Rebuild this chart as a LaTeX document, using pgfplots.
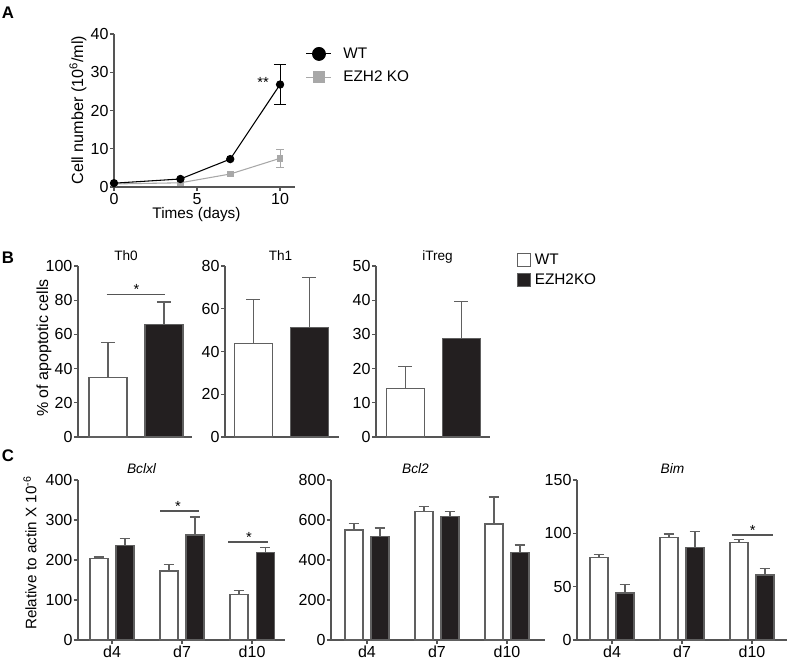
\documentclass[border=0pt]{standalone}
\usepackage{fontspec}
\setmainfont{Liberation Sans}
\usepackage{pgfplots}
\pgfplotsset{compat=1.18}
\definecolor{axgray}{HTML}{555555}
\definecolor{bargray}{HTML}{606060}
\definecolor{barblack}{HTML}{231F20}
\definecolor{kogray}{HTML}{A8A8A8}
\pgfplotsset{
  base/.style={scale only axis, anchor=south west, axis lines=left,
    axis line style={-, draw=axgray, line width=1pt},
    every tick/.style={draw=axgray, line width=1pt},
    tick align=outside, major tick length=3pt,
    /pgf/number format/assume math mode=true,
    tick label style={font=\fontsize{12}{14}\selectfont, text=black},
    yticklabel style={inner xsep=1pt},
    xticklabel style={inner ysep=1.5pt},
    clip=false},
  barerr/.style={/pgfplots/error bars/y dir=plus, /pgfplots/error bars/y explicit,
    /pgfplots/error bars/error bar style={draw=bargray, line width=0.9pt},
    /pgfplots/error bars/error mark options={rotate=90, draw=bargray, line width=0.9pt, mark size=#1}},
  wtB/.style={ybar, bar width=28.5pt, bar shift=0pt, fill=white, draw=bargray, line width=0.9pt, barerr=5.3pt},
  koB/.style={ybar, bar width=28.5pt, bar shift=0pt, fill=barblack, draw=bargray, line width=0.9pt, barerr=5.3pt},
  wtC/.style={ybar, bar width=13.5pt, bar shift=0pt, fill=white, draw=bargray, line width=0.9pt, barerr=4pt},
  koC/.style={ybar, bar width=13.5pt, bar shift=0pt, fill=barblack, draw=bargray, line width=0.9pt, barerr=4pt},
}
\newcommand{\stars}[1]{{\fontsize{11}{13}\selectfont #1}}
\begin{document}
\begin{tikzpicture}
\path[use as bounding box] (0,0) rectangle (590.25pt,-496.5pt);

% ---------------- Panel A ----------------
\begin{axis}[base, at={(85.5pt,-140.25pt)}, width=135.75pt, height=114.75pt,
  xmin=0, xmax=10.9, ymin=0, ymax=40, xtick={0,5,10}, ytick={0,10,...,40},
  tick label style={font=\fontsize{12}{14}\selectfont},
  legend cell align=left,
  legend image code/.code={\draw[mark repeat=2, mark phase=2, #1] plot coordinates {(0pt,0pt) (9.375pt,0pt) (18.75pt,0pt)};},
  legend style={at={(1.059,0.93)}, anchor=north west, draw=none, fill=none, inner sep=0pt,
    row sep=4pt, column sep=6.5pt, font=\fontsize{11.5}{13}\selectfont}]
\addplot[kogray, line width=0.8pt, mark=square*, mark size=2.1pt, mark options={solid}, forget plot] table[x=x, y=y] {
x y
0 0.8
4 1.1
7 3.4
10 7.5
};
\addplot[kogray, only marks, mark=none, forget plot, error bars/.cd, y dir=both, y explicit,
  error bar style={draw=kogray, line width=0.8pt}, error mark options={rotate=90, draw=kogray, line width=0.8pt, mark size=2.8pt}]
  coordinates {(10,7.5) +- (0,2.4)};
\addplot[black, line width=0.8pt, mark=*, mark size=2.7pt, forget plot] table[x=x, y=y] {
x y
0 1.0
4 2.1
7 7.3
10 26.8
};
\addplot[black, only marks, mark=none, forget plot, error bars/.cd, y dir=both, y explicit,
  error bar style={draw=black, line width=0.8pt}, error mark options={rotate=90, draw=black, line width=0.8pt, mark size=4.6pt}]
  coordinates {(10,26.8) +- (0,5.3)};
\addlegendimage{black, line width=0.8pt, mark=*, mark size=4.8pt}
\addlegendentry{WT}
\addlegendimage{kogray, line width=0.8pt, mark=square*, mark size=4pt}
\addlegendentry{EZH2 KO}
\node[anchor=base] at (axis cs:8.98,25.9) {\stars{**}};
\end{axis}

% ---------------- Panel B ----------------
\begin{axis}[base, at={(58.5pt,-327.75pt)}, width=85.5pt, height=128.25pt,
  xmin=0.464, xmax=2.5, ymin=0, ymax=100, ytick={0,20,...,100}, xtick=\empty]
\addplot[wtB] table[x=x, y=y, y error=e] {
x y e
1 34.7 20.4
};
\addplot[koB] table[x=x, y=y, y error=e] {
x y e
2 65.9 13.0
};
\draw[axgray, line width=0.9pt] (axis cs:0.977,83.4) -- (axis cs:2.018,83.4);
\node[anchor=base] at (axis cs:1.51,83.4) {\stars{*}};
\end{axis}

\begin{axis}[base, at={(168.75pt,-327.75pt)}, width=85.5pt, height=128.25pt,
  xmin=0.495, xmax=2.53, ymin=0, ymax=80, ytick={0,20,...,80}, xtick=\empty]
\addplot[wtB] table[x=x, y=y, y error=e] {
x y e
1 43.6 20.9
};
\addplot[koB] table[x=x, y=y, y error=e] {
x y e
2 51.1 23.6
};
\end{axis}

\begin{axis}[base, at={(282pt,-327.75pt)}, width=85.5pt, height=128.25pt,
  xmin=0.48, xmax=2.515, ymin=0, ymax=50, ytick={0,10,...,50}, xtick=\empty,
  legend cell align=left,
  legend image code/.code={\draw[#1] (0pt,-4.9pt) rectangle (9.75pt,4.9pt);},
  legend style={at={(1.231,1.088)}, anchor=north west, draw=none, fill=none, inner sep=0pt,
    row sep=1.5pt, column sep=1pt, font=\fontsize{11.5}{12}\selectfont}]
\addplot[wtB, forget plot] table[x=x, y=y, y error=e] {
x y e
1 14.3 6.3
};
\addplot[koB, forget plot] table[x=x, y=y, y error=e] {
x y e
2 28.8 10.8
};
\addlegendimage{draw=bargray, fill=white, line width=0.9pt}
\addlegendentry{WT}
\addlegendimage{draw=bargray, fill=barblack, line width=0.9pt}
\addlegendentry{EZH2KO}
\end{axis}

% ---------------- Panel C ----------------
\begin{axis}[base, at={(58.5pt,-480pt)}, width=155.25pt, height=120pt,
  xmin=-0.486, xmax=2.47, ymin=0, ymax=400, ytick={0,100,...,400},
  xtick={0,1,2}, xticklabels={d4,d7,d10}]
\addplot[wtC] table[x=x, y=y, y error=e] {
x y e
-0.186 203 4.5
0.814 172.5 16.5
1.814 114 10
};
\addplot[koC] table[x=x, y=y, y error=e] {
x y e
0.186 236.7 17.3
1.186 262.5 45
2.186 218 13
};
\draw[axgray, line width=0.9pt] (axis cs:0.686,322.5) -- (axis cs:1.243,322.5);
\node[anchor=base] at (axis cs:0.943,322.5) {\stars{*}};
\draw[axgray, line width=0.9pt] (axis cs:1.657,245) -- (axis cs:2.229,245);
\node[anchor=base] at (axis cs:1.957,245) {\stars{*}};
\end{axis}

\begin{axis}[base, at={(248.25pt,-480pt)}, width=160.5pt, height=120pt,
  xmin=-0.514, xmax=2.543, ymin=0, ymax=800, ytick={0,200,...,800},
  xtick={0,1,2}, xticklabels={d4,d7,d10}]
\addplot[wtC] table[x=x, y=y, y error=e] {
x y e
-0.186 550 33
0.814 642.5 23.5
1.814 580 135
};
\addplot[koC] table[x=x, y=y, y error=e] {
x y e
0.186 517 43
1.186 617.6 25
2.186 438 37
};
\end{axis}

\begin{axis}[base, at={(432.75pt,-480pt)}, width=157.5pt, height=120pt,
  xmin=-0.5, xmax=2.5, ymin=0, ymax=150, ytick={0,50,100,150},
  xtick={0,1,2}, xticklabels={d4,d7,d10}]
\addplot[wtC] table[x=x, y=y, y error=e] {
x y e
-0.186 77.3 3.1
0.814 95.9 3.5
1.814 91.2 3.2
};
\addplot[koC] table[x=x, y=y, y error=e] {
x y e
0.186 44 8.4
1.186 86.5 15
2.186 60.9 5.9
};
\draw[axgray, line width=0.9pt] (axis cs:1.71,98.4) -- (axis cs:2.30,98.4);
\node[anchor=base] at (axis cs:2.01,98.4) {\stars{*}};
\end{axis}

% ---------------- Text ----------------
\begin{scope}[x=0.75pt, y=-0.75pt]
\node[font=\fontsize{12.6}{14}\selectfont\bfseries] at (8,12.5) {A};
\node[font=\fontsize{12.6}{14}\selectfont\bfseries] at (8,258) {B};
\node[font=\fontsize{12.6}{14}\selectfont\bfseries] at (8,455.5) {C};
\node[rotate=90, font=\fontsize{12.1}{13}\selectfont] at (78,110) {Cell number (10\textsuperscript{6}/ml)};
\node[anchor=base, font=\fontsize{11.5}{13}\selectfont] at (196.5,218) {Times (days)};
\node[rotate=90, font=\fontsize{12}{13}\selectfont] at (44,348) {\% of apoptotic cells};
\node[rotate=90, font=\fontsize{11.4}{13}\selectfont] at (30,553) {Relative to actin X 10\textsuperscript{-6}};
\node[anchor=base, font=\fontsize{10.2}{12}\selectfont] at (126,260) {Th0};
\node[anchor=base, font=\fontsize{10.2}{12}\selectfont] at (280.5,260) {Th1};
\node[anchor=base, font=\fontsize{10.2}{12}\selectfont] at (437.5,260) {iTreg};
\node[anchor=base, font=\fontsize{10.3}{12}\selectfont\itshape] at (141.5,473) {Bclxl};
\node[anchor=base, font=\fontsize{10.3}{12}\selectfont\itshape] at (415.5,473) {Bcl2};
\node[anchor=base, font=\fontsize{10.3}{12}\selectfont\itshape] at (672.5,473) {Bim};
\end{scope}
\end{tikzpicture}
\end{document}
